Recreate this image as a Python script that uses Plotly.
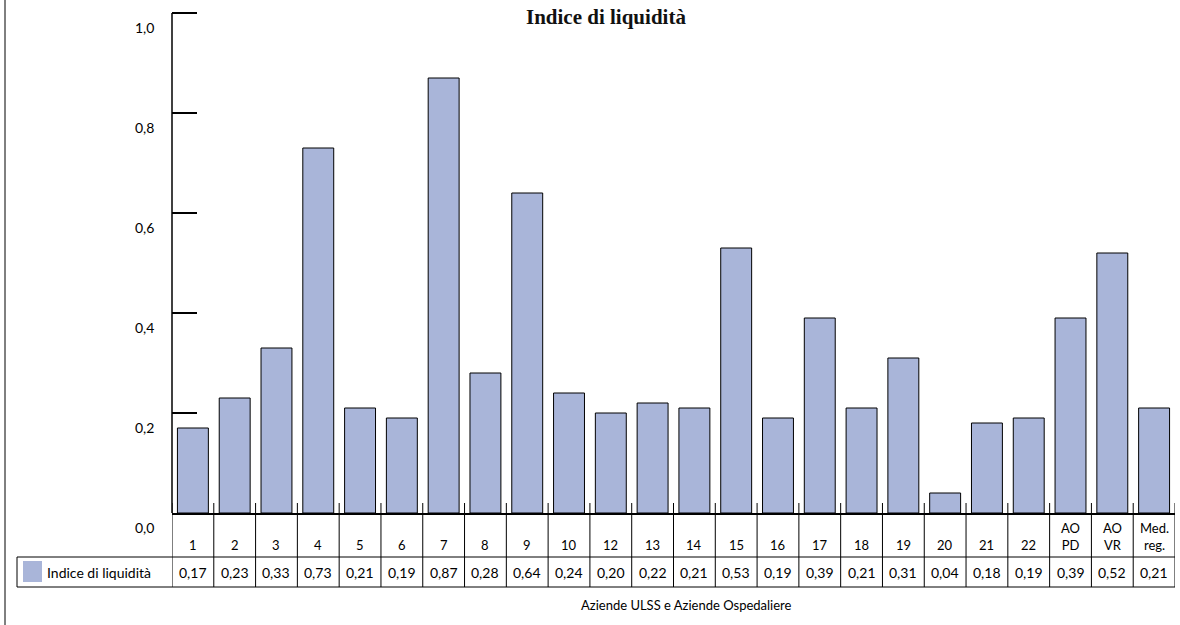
import plotly.graph_objects as go

categories = ["1", "2", "3", "4", "5", "6", "7", "8", "9", "10", "12", "13", "14",
              "15", "16", "17", "18", "19", "20", "21", "22", "AO<br>PD", "AO<br>VR", "Med.<br>reg."]
values = [0.17, 0.23, 0.33, 0.73, 0.21, 0.19, 0.87, 0.28, 0.64, 0.24, 0.20, 0.22, 0.21,
          0.53, 0.19, 0.39, 0.21, 0.31, 0.04, 0.18, 0.19, 0.39, 0.52, 0.21]
y_ticks = [0.0, 0.2, 0.4, 0.6, 0.8, 1.0]
series_name = "Indice di liquidità"
title_text = "Indice di liquidità"
xaxis_title = "Aziende ULSS e Aziende Ospedaliere"

W, H = 1180, 625
Y_MAX = 1.02
L, R, B = 172, 5, 112
PH = round(500 * Y_MAX)
T = H - B - PH
PW = W - L - R
BAR_COLOR = "#A9B5D9"
FONT = "Lato"

def px_x(px):
    return (px - L) / PW

def px_y(py):
    return (H - B - py) / PH

xs = list(range(len(categories)))

fig = go.Figure()
fig.add_trace(go.Bar(
    x=xs, y=values, marker=dict(color=BAR_COLOR, line=dict(color="black", width=1)),
    showlegend=False, hoverinfo="skip"))

shapes = []
annotations = []

line = dict(color="black", width=1)
# y axis line (from 0 to top tick)
shapes.append(dict(type="line", xref="paper", yref="y", x0=0, x1=0,
                   y0=0, y1=y_ticks[-1], line=dict(color="black", width=1.5)))
# y tick labels, placed just below each tick
for tv in y_ticks:
    annotations.append(dict(xref="paper", yref="y", x=px_x(156), y=tv, yshift=-14,
                            xanchor="right", yanchor="middle",
                            text=f"{tv:.1f}".replace(".", ","), showarrow=False,
                            font=dict(family=FONT, size=14, color="black")))
# table horizontal lines
for py in (557, 587):
    shapes.append(dict(type="line", xref="paper", yref="paper",
                       x0=px_x(17), x1=1.0, y0=px_y(py), y1=px_y(py), line=line))
# legend cell left border
shapes.append(dict(type="line", xref="paper", yref="paper",
                   x0=px_x(17), x1=px_x(17), y0=px_y(557), y1=px_y(587), line=line))
# column borders (including small category ticks above the axis)
for k in range(len(categories) + 1):
    shapes.append(dict(type="line", xref="x", yref="paper",
                       x0=k - 0.5, x1=k - 0.5, y0=px_y(503), y1=px_y(587), line=line))
# outer frame left line
shapes.append(dict(type="line", xref="paper", yref="paper",
                   x0=px_x(5), x1=px_x(5), y0=px_y(0), y1=px_y(625), line=line))
# legend swatch
shapes.append(dict(type="rect", xref="paper", yref="paper",
                   x0=px_x(23), x1=px_x(42), y0=px_y(561), y1=px_y(582),
                   fillcolor=BAR_COLOR, line=dict(width=0)))

annotations.append(dict(xref="paper", yref="paper", x=px_x(45), y=px_y(572),
                        xanchor="left", yanchor="middle", text=series_name, showarrow=False,
                        font=dict(family=FONT, size=14, color="black")))

for i, (c, v) in enumerate(zip(categories, values)):
    annotations.append(dict(xref="x", yref="paper", x=i, y=px_y(555),
                            xanchor="center", yanchor="bottom", text=c, showarrow=False,
                            font=dict(family=FONT, size=13, color="black")))
    annotations.append(dict(xref="x", yref="paper", x=i, y=px_y(572),
                            xanchor="center", yanchor="middle",
                            text=f"{v:.2f}".replace(".", ","), showarrow=False,
                            font=dict(family=FONT, size=14, color="black")))

annotations.append(dict(xref="paper", yref="paper", x=px_x(686), y=px_y(605),
                        xanchor="center", yanchor="middle", text=xaxis_title, showarrow=False,
                        font=dict(family=FONT, size=13, color="black")))
annotations.append(dict(xref="paper", yref="paper", x=px_x(606), y=px_y(17),
                        xanchor="center", yanchor="middle", text=f"<b>{title_text}</b>",
                        showarrow=False,
                        font=dict(family="Liberation Serif", size=21, color="#111111")))

fig.update_layout(
    width=W, height=H,
    margin=dict(l=L, r=R, t=T, b=B, autoexpand=False),
    paper_bgcolor="white", plot_bgcolor="white",
    separators=",.",
    bargap=0.26,
    shapes=shapes, annotations=annotations,
    xaxis=dict(range=[-0.5, len(categories) - 0.5], showgrid=False, zeroline=False,
               showline=True, linecolor="black", linewidth=1.5,
               ticks="", showticklabels=False),
    yaxis=dict(range=[0, Y_MAX], tickvals=y_ticks, showgrid=False, zeroline=False,
               showline=False, showticklabels=False,
               ticks="inside", ticklen=25, tickcolor="black", tickwidth=1.5),
)

fig.write_html("out.html", config={"displayModeBar": False},
               post_script="document.body.style.margin='0';")
